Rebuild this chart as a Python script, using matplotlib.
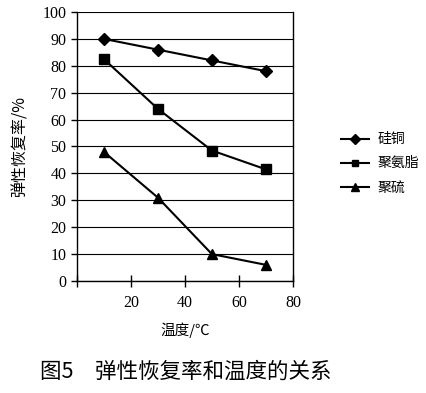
import matplotlib.pyplot as plt

plt.rcParams['font.family'] = ['Liberation Serif', 'Noto Sans CJK SC']

# Datos
temperatura = [10, 30, 50, 70]
guitong = [90, 86, 82, 78]          # 硅铜
juanzhi = [82.5, 64, 48.5, 41.5]    # 聚氨脂
juliu = [48, 31, 10, 6]             # 聚硫
nombres = ['硅铜', '聚氨脂', '聚硫']

fig = plt.figure(figsize=(4.27, 3.93), dpi=100)
ax = fig.add_axes([0.180, 0.285, 0.506, 0.6845])

ax.plot(temperatura, guitong, color='black', lw=1.5, marker='D', ms=6.5, label=nombres[0])
ax.plot(temperatura, juanzhi, color='black', lw=1.5, marker='s', ms=6.5, label=nombres[1])
ax.plot(temperatura, juliu, color='black', lw=1.5, marker='^', ms=7.5, label=nombres[2])

ax.set_xlim(0, 80)
ax.set_ylim(0, 100)
ax.set_xticks([0, 20, 40, 60, 80])
ax.set_xticklabels(['', '20', '40', '60', '80'])
ax.set_yticks(range(0, 101, 10))
ax.grid(axis='y', color='black', lw=0.8)
ax.set_axisbelow(True)
ax.spines['top'].set_visible(False)
for s in ['left', 'right', 'bottom']:
    ax.spines[s].set_linewidth(1.0)
ax.tick_params(axis='both', labelsize=11.5, length=4, width=1)
ax.tick_params(axis='x', direction='inout', length=8, pad=6)

ax.set_xlabel('温度/℃', family=['Noto Sans CJK SC'], fontsize=10.5, labelpad=8)
ax.set_ylabel('弹性恢复率/%', family=['Noto Sans CJK SC'], fontsize=11.5, labelpad=10)

fig.legend(loc='upper left', bbox_to_anchor=(0.77, 0.695), frameon=False,
           prop={'family': 'Noto Sans CJK SC', 'size': 10}, handlelength=2.0,
           handletextpad=0.6, labelspacing=0.72, markerscale=0.75)

fig.text(0.094, 0.025, '图5　弹性恢复率和温度的关系', family=['Noto Sans CJK SC'],
         fontsize=15.5, ha='left', va='bottom')

fig.savefig('out.png', dpi=100)
